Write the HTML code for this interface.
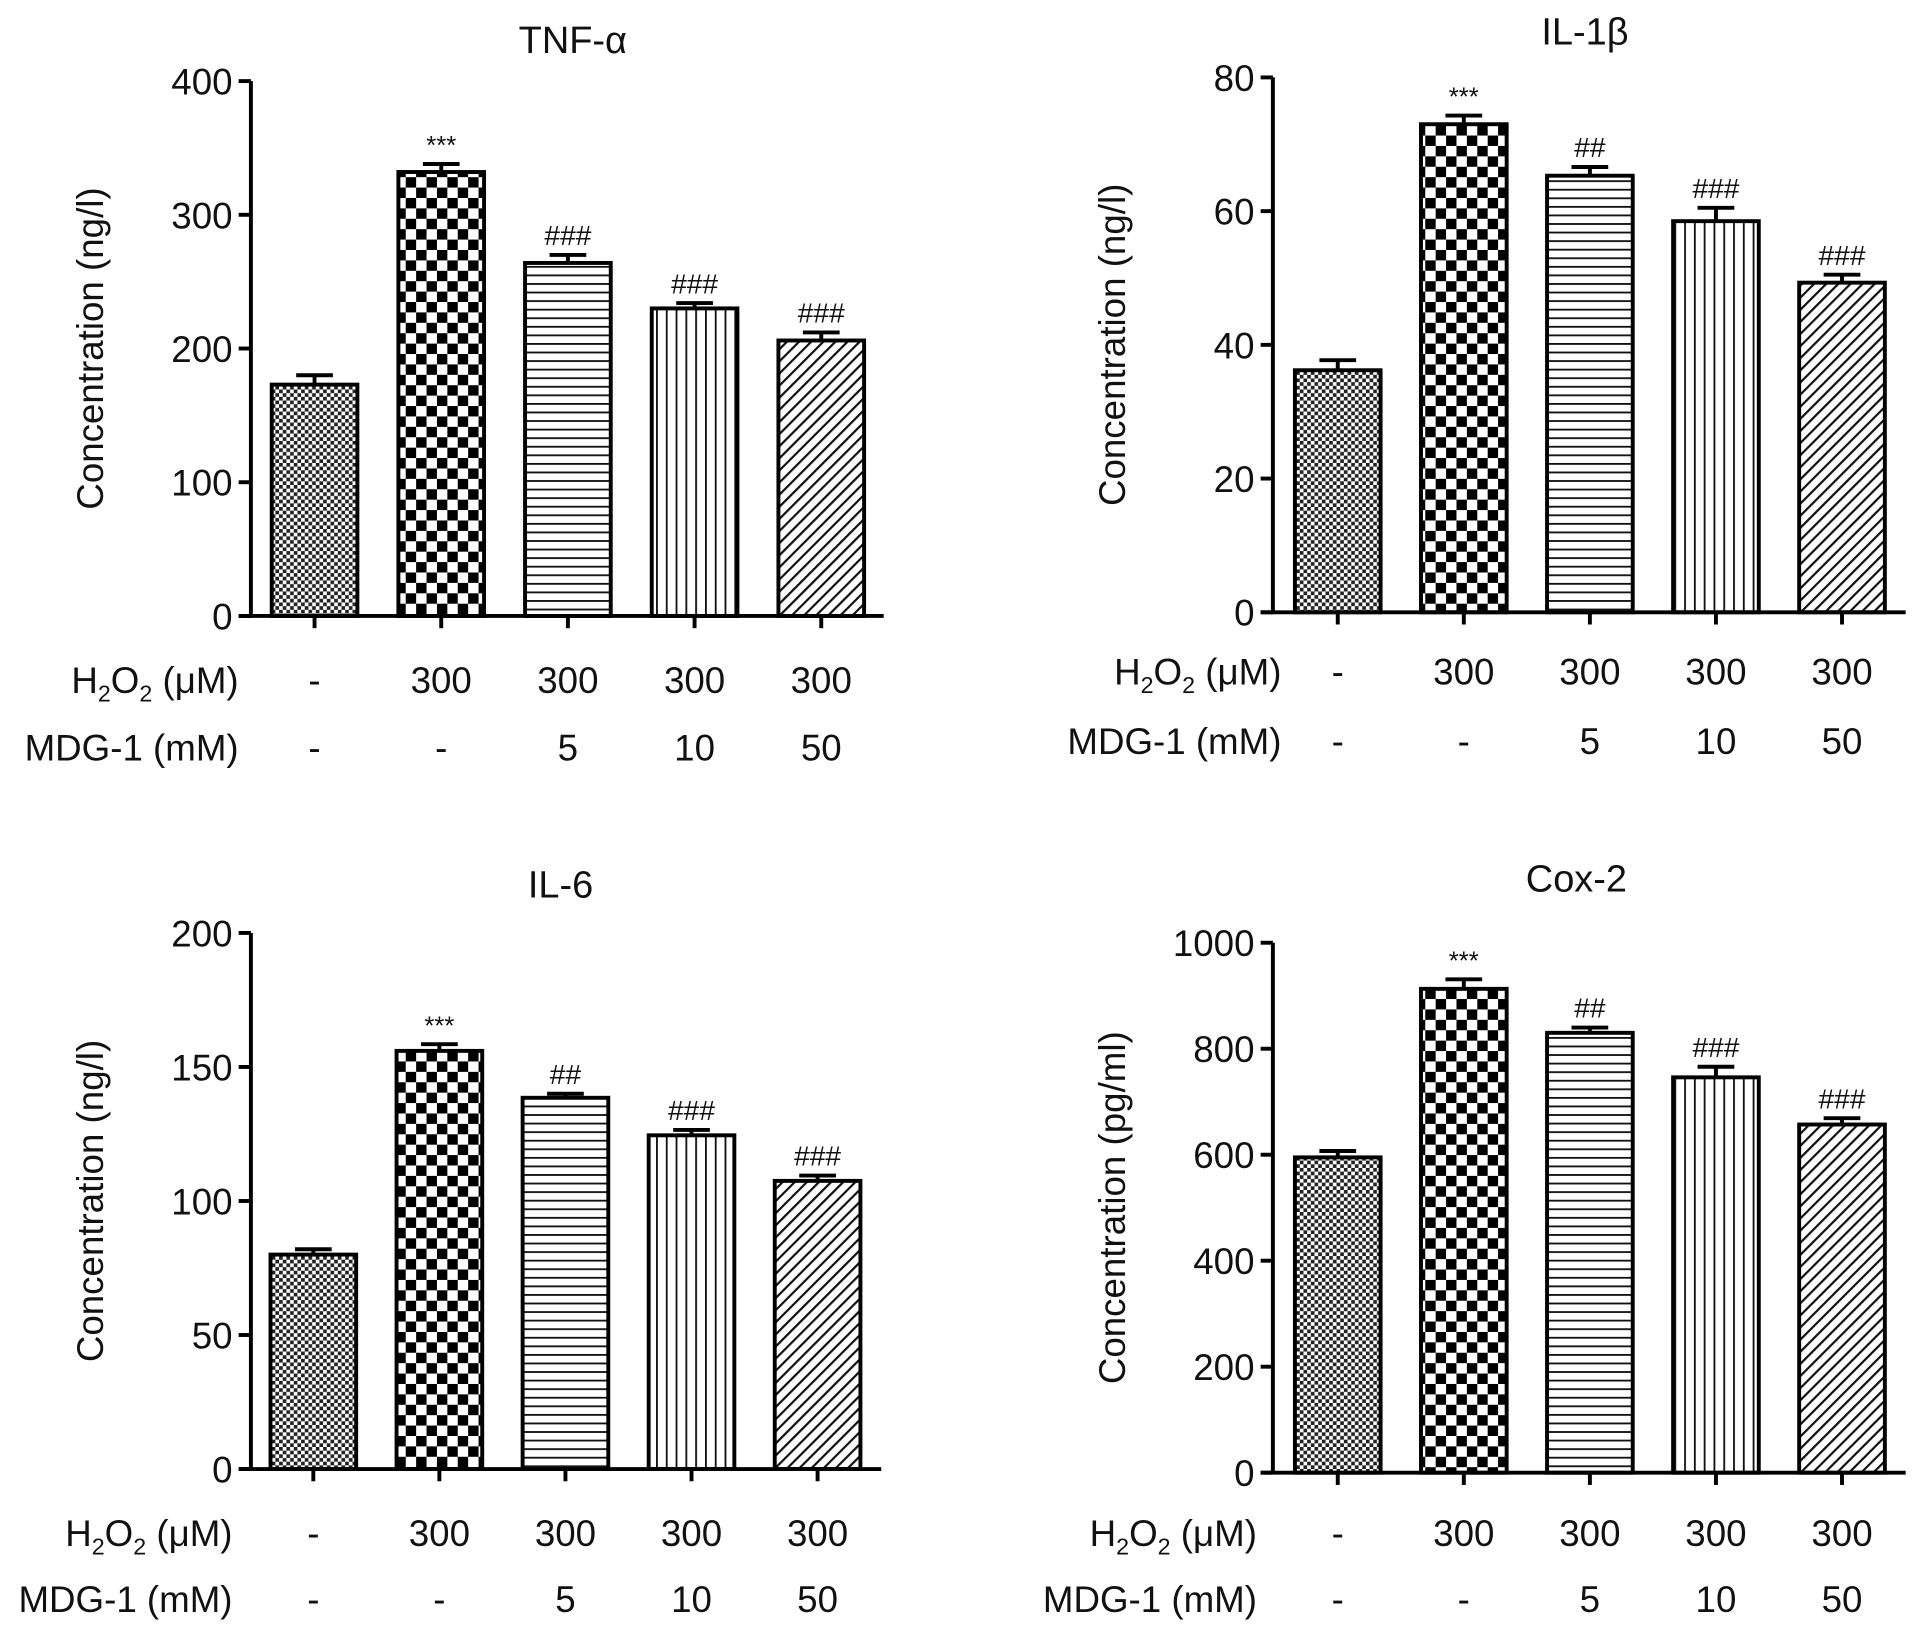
<!DOCTYPE html>
<html><head><meta charset="utf-8"><style>
html,body{margin:0;padding:0;background:#fff}
svg{display:block;font-family:"Liberation Sans",Arial,sans-serif}
</style></head><body>
<svg id="fig" width="1913" height="1626" viewBox="0 0 1563 1328" xmlns="http://www.w3.org/2000/svg">
<defs>
<pattern id="p0" patternUnits="userSpaceOnUse" width="6" height="6"><rect width="6" height="6" fill="#fff"/><rect width="3" height="3" fill="#222"/><rect x="3" y="3" width="3" height="3" fill="#222"/></pattern>
<pattern id="p1" patternUnits="userSpaceOnUse" width="17" height="17"><rect width="17" height="17" fill="#fff"/><rect width="8.5" height="8.5" fill="#000"/><rect x="8.5" y="8.5" width="8.5" height="8.5" fill="#000"/></pattern>
<pattern id="p2" patternUnits="userSpaceOnUse" width="10" height="7"><rect width="10" height="7" fill="#fff"/><rect y="0" width="10" height="1.5" fill="#111"/></pattern>
<pattern id="p3" patternUnits="userSpaceOnUse" width="8" height="10"><rect width="8" height="10" fill="#fff"/><rect x="0" width="1.5" height="10" fill="#111"/></pattern>
<pattern id="p4" patternUnits="userSpaceOnUse" width="7" height="7" patternTransform="rotate(45)"><rect width="7" height="7" fill="#fff"/><rect width="1.8" height="7" fill="#111"/></pattern>
</defs>
</svg>
<script>
const groups = ["control","H2O2","H2O2+MDG5","H2O2+MDG10","H2O2+MDG50"];
const h2o2Labels = ["-","300","300","300","300"];
const mdgLabels = ["-","-","5","10","50"];
const sigLabels = ["","***","###","###","###"];
const tnfValues = [173,332,264,230,206];
const tnfErrors = [7,6,6,4,6];
const tnfTicks = [0,100,200,300,400];
const il1bValues = [36.2,73,65.3,58.5,49.3];
const il1bErrors = [1.5,1.3,1.3,2,1.2];
const il1bTicks = [0,20,40,60,80];
const il1bSig = ["","***","##","###","###"];
const il6Values = [80,156,138.5,124.5,107.5];
const il6Errors = [2,2.5,1.5,2,2];
const il6Ticks = [0,50,100,150,200];
const il6Sig = ["","***","##","###","###"];
const coxValues = [595,913,830,746,657];
const coxErrors = [12,18,10,20,12];
const coxTicks = [0,200,400,600,800,1000];
const coxSig = ["","***","##","###","###"];

const NS="http://www.w3.org/2000/svg";
const svg=document.getElementById('fig');
function mk(tag,attrs,parent,text){const e=document.createElementNS(NS,tag);for(const k in attrs)e.setAttribute(k,attrs[k]);if(text!==undefined)e.textContent=text;(parent||svg).appendChild(e);return e;}

function panel(cfg){
  const g=mk('g',{});
  
  
  const tmax=cfg.ticks[cfg.ticks.length-1];
  const y=v=>cfg.y0-(v/tmax)*(cfg.y0-cfg.ytop);
  const x=i=>cfg.x0+i*cfg.step;
  const t=mk('text',{x:cfg.titleX,y:cfg.titleY,'font-size':31,'text-anchor':'middle',fill:'#111'},g,cfg.title);
  
  
  const yt=mk('text',{transform:`translate(${cfg.ax-121},${(cfg.y0+cfg.ytop)/2}) rotate(-90)`,'font-size':30,'text-anchor':'middle',fill:'#111'},g,cfg.ylabel);
  
  
  cfg.ticks.forEach(tv=>{
    mk('line',{x1:cfg.ax-10,x2:cfg.ax,y1:y(tv),y2:y(tv),stroke:'#000','stroke-width':3.2},g);
    const tl=mk('text',{x:cfg.ax-15,y:y(tv)+11,'font-size':30,'text-anchor':'end',fill:'#111'},g,String(tv));
    
    
  });
  const bw=70;
  cfg.values.forEach((v,i)=>{
    const cx=x(i);
    const ey=y(v+cfg.errors[i]);
    mk('line',{x1:cx,x2:cx,y1:y(v),y2:ey,stroke:'#000','stroke-width':3.2},g);
    mk('line',{x1:cx-15,x2:cx+15,y1:ey,y2:ey,stroke:'#000','stroke-width':3.2},g);
    const r=mk('rect',{x:cx-bw/2,y:y(v),width:bw,height:cfg.y0-y(v),fill:`url(#p${i})`,stroke:'#000','stroke-width':3.2},g);
    
    
    if(cfg.sig[i]){
      const s=mk('text',{x:cx,y:ey-8,'font-size':cfg.sig[i][0]==='*'?21:23,'text-anchor':'middle',fill:'#111'},g,cfg.sig[i]);
      
      
    }
    mk('line',{x1:cx,x2:cx,y1:cfg.y0,y2:cfg.y0+10,stroke:'#000','stroke-width':3.2},g);
    const a=mk('text',{x:cx,y:cfg.row1+11,'font-size':30,'text-anchor':'middle',fill:'#111'},g,h2o2Labels[i]);
    
    
    const b=mk('text',{x:cx,y:cfg.row2+11,'font-size':30,'text-anchor':'middle',fill:'#111'},g,mdgLabels[i]);
    
    
  });
  mk('line',{x1:cfg.ax,x2:cfg.ax,y1:cfg.ytop,y2:cfg.y0+1.5,stroke:'#000','stroke-width':3.2},g);
  mk('line',{x1:cfg.ax-10,x2:cfg.axEnd,y1:cfg.y0,y2:cfg.y0,stroke:'#000','stroke-width':3.2},g);
  const h=mk('text',{x:cfg.lx,y:cfg.row1+11,'font-size':30,'text-anchor':'end',fill:'#111'},g);
  
  
  h.innerHTML='H<tspan font-size="19" dy="7">2</tspan><tspan dy="-7">O</tspan><tspan font-size="19" dy="7">2</tspan><tspan dy="-7"> (μM)</tspan>';
  const m=mk('text',{x:cfg.lx,y:cfg.row2+11,'font-size':30,'text-anchor':'end',fill:'#111'},g,'MDG-1 (mM)');
  
  
}

panel({name:'tnf-alpha',title:'TNF-α',titleX:468,titleY:43,ylabel:'Concentration (ng/l)',ax:205,axEnd:722,y0:503,ytop:66,x0:257,step:103.5,values:tnfValues,errors:tnfErrors,ticks:tnfTicks,sig:sigLabels,row1:555,row2:610,lx:195});
panel({name:'il-1beta',title:'IL-1β',titleX:1295,titleY:36,ylabel:'Concentration (ng/l)',ax:1040,axEnd:1557,y0:500,ytop:63,x0:1093,step:103,values:il1bValues,errors:il1bErrors,ticks:il1bTicks,sig:il1bSig,row1:548,row2:605,lx:1047});
panel({name:'il-6',title:'IL-6',titleX:458,titleY:733,ylabel:'Concentration (ng/l)',ax:205,axEnd:720,y0:1200,ytop:762,x0:256,step:103,values:il6Values,errors:il6Errors,ticks:il6Ticks,sig:il6Sig,row1:1252,row2:1306,lx:190});
panel({name:'cox-2',title:'Cox-2',titleX:1288,titleY:728,ylabel:'Concentration (pg/ml)',ax:1040,axEnd:1557,y0:1203,ytop:770,x0:1093,step:103,values:coxValues,errors:coxErrors,ticks:coxTicks,sig:coxSig,row1:1252,row2:1306,lx:1027});
</script>
</body></html>
